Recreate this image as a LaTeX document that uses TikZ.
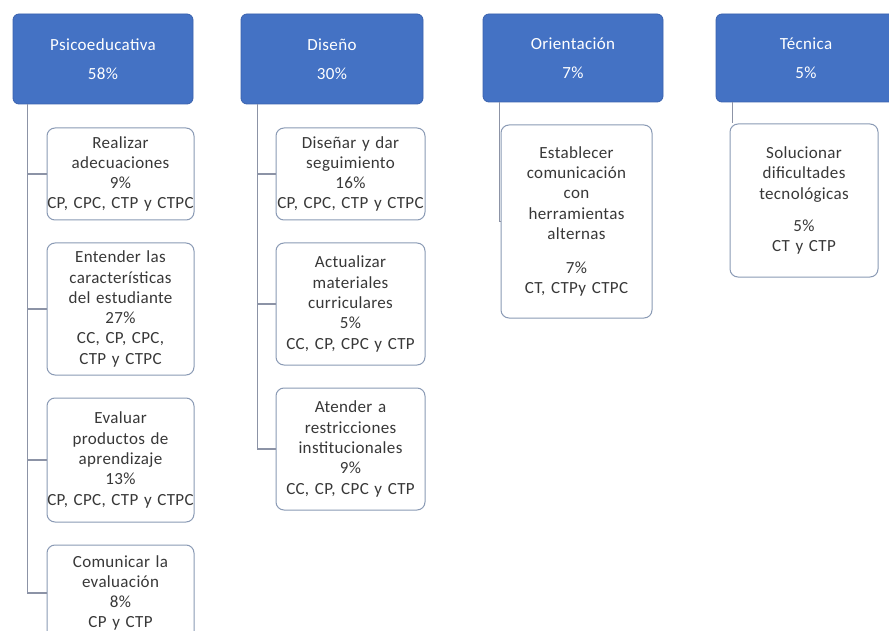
\documentclass[tikz,border=0pt]{standalone}
\usepackage{fontspec}
\setmainfont{Carlito}[LetterSpace=2,WordSpace=0.55]
\usetikzlibrary{calc}
\definecolor{hdrblue}{HTML}{4472C4}
\definecolor{hdrline}{HTML}{3A62AE}
\definecolor{boxline}{HTML}{8A9AB5}
\definecolor{conn}{HTML}{8C93A6}
\definecolor{txt}{HTML}{383838}
\tikzset{
  hdr/.style={draw=hdrline, line width=0.8pt, fill=hdrblue, rounded corners=6pt,
    minimum width=180pt, minimum height=90pt, text=white, align=center,
    font=\fontsize{17}{20}\selectfont, inner sep=0pt},
  item/.style={draw=boxline, line width=1pt, fill=white, rounded corners=8pt,
    text width=#1, align=center, text=txt, inner sep=0pt,
    font=\fontsize{17}{20.3}\selectfont},
  item/.default=147pt,
  link/.style={draw=conn, line width=1.1pt}
}
\begin{document}
\begin{tikzpicture}[x=1pt,y=-1pt]
\useasboundingbox[fill=white] (0,0) rectangle (889,631);
% headers
\node[hdr] (p) at (103,59) {Psicoeducativa\\[9pt]58\%};
\node[hdr, minimum width=182pt] (d) at (332,59) {Diseño\\[9pt]30\%};
\node[hdr, minimum height=88pt] (o) at (573,58) {Orientación\\[9pt]7\%};
\node[hdr, minimum height=88pt] (t) at (806,58) {Técnica\\[9pt]5\%};
% Psicoeducativa items
\node[item, minimum height=92pt] (p1) at (120.5,174) {Realizar\\adecuaciones\\9\%\\CP, CPC, CTP y CTPC};
\node[item, minimum height=132pt] (p2) at (120.5,309) {Entender las\\características\\del estudiante\\27\%\\CC, CP, CPC,\\CTP y CTPC};
\node[item, minimum height=124pt] (p3) at (120.5,460) {Evaluar\\productos de\\aprendizaje\\13\%\\CP, CPC, CTP y CTPC};
\node[item, minimum height=96pt] (p4) at (120.5,593) {Comunicar la\\evaluación\\8\%\\CP y CTP};
% Diseño items
\node[item=149pt, minimum height=92pt] (d1) at (350.5,174) {Diseñar y dar\\seguimiento\\16\%\\CP, CPC, CTP y CTPC};
\node[item=149pt, minimum height=122pt] (d2) at (350.5,304) {Actualizar\\materiales\\curriculares\\5\%\\CC, CP, CPC y CTP};
\node[item=149pt, minimum height=122pt] (d3) at (350.5,449) {Atender a\\restricciones\\institucionales\\9\%\\CC, CP, CPC y CTP};
% Orientación item
\node[item=151pt, minimum height=193pt] (o1) at (576.5,221.5) {Establecer\\comunicación\\con\\herramientas\\alternas\\[14pt]7\%\\CT, CTPy CTPC};
% Técnica item
\node[item=148pt, minimum height=153pt] (t1) at (804,200.5) {Solucionar\\dificultades\\tecnológicas\\[12pt]5\%\\CT y CTP\\[14pt]};
% connectors
\coordinate (pc) at ($(p.south west)+(15,0)$);
\coordinate (dc) at ($(d.south west)+(17,0)$);
\coordinate (oc) at ($(o.south west)+(17,0)$);
\coordinate (tc) at ($(t.south west)+(17,0)$);
\draw[link] (pc) |- (p1.west);
\draw[link] (pc) |- (p2.west);
\draw[link] (pc) |- (p3.west);
\draw[link] (pc) |- (p4.west);
\draw[link] (dc) |- (d1.west);
\draw[link] (dc) |- (d2.west);
\draw[link] (dc) |- (d3.west);
\draw[link] (oc) |- (o1.west);
\draw[link] (tc) -- (tc |- t1.north);
\end{tikzpicture}
\end{document}
